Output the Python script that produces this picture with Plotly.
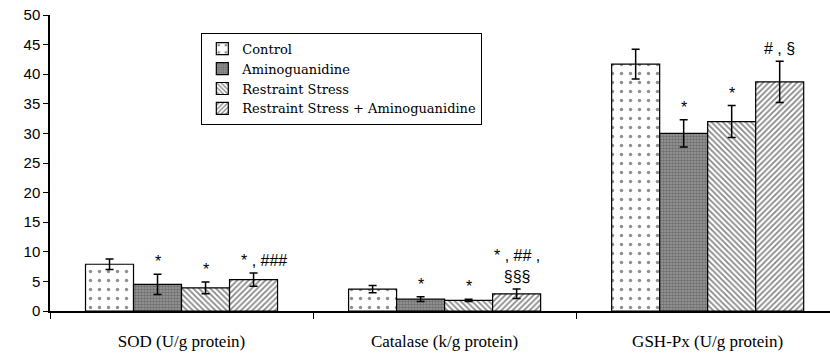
import plotly.graph_objects as go

# Antioxidant enzyme activity by treatment group
categories = ["SOD (U/g protein)", "Catalase (k/g protein)", "GSH-Px (U/g protein)"]
groups = ["Control", "Aminoguanidine", "Restraint Stress", "Restraint Stress + Aminoguanidine"]

control_mean = [7.9, 3.7, 41.7]
control_err = [0.9, 0.6, 2.5]
amino_mean = [4.5, 2.0, 30.0]
amino_err = [1.7, 0.4, 2.3]
stress_mean = [3.9, 1.8, 32.0]
stress_err = [1.0, 0.2, 2.7]
stress_amino_mean = [5.3, 2.9, 38.7]
stress_amino_err = [1.1, 0.8, 3.5]

# significance marks: (category index, group index, label)
sig_labels = [
    (0, 1, "*"), (0, 2, "*"), (0, 3, "* , ###"),
    (1, 1, "*"), (1, 2, "*"), (1, 3, "* , ## ,<br>§§§"),
    (2, 1, "*"), (2, 2, "*"), (2, 3, "# , §"),
]

y_ticks = [0, 5, 10, 15, 20, 25, 30, 35, 40, 45, 50]

means = [control_mean, amino_mean, stress_mean, stress_amino_mean]
errs = [control_err, amino_err, stress_err, stress_amino_err]

patterns = [
    dict(shape=".", size=9, solidity=0.12, fgcolor="#222", bgcolor="white", fillmode="overlay"),
    dict(shape=".", size=3, solidity=0.55, fgcolor="#444", bgcolor="#9a9a9a", fillmode="overlay"),
    dict(shape="\\", size=4, solidity=0.45, fgcolor="#111", bgcolor="white", fillmode="overlay"),
    dict(shape="/", size=4, solidity=0.45, fgcolor="#111", bgcolor="white", fillmode="overlay"),
]

fig = go.Figure()
for name, m, e, p in zip(groups, means, errs, patterns):
    fig.add_trace(go.Bar(
        x=categories, y=m, name=name,
        marker=dict(color="white", line=dict(color="black", width=1.2), pattern=p),
        error_y=dict(type="data", array=e, visible=True, color="black", thickness=1.5, width=4),
    ))

bargap = 0.27
bar_w = (1 - bargap) / 4
for ci, gi, text in sig_labels:
    mean = means[gi][ci]
    err = errs[gi][ci]
    x = ci + (gi - 1.5) * bar_w
    fig.add_annotation(
        x=x, y=mean + err, xref="x", yref="y", text=text, showarrow=False,
        yanchor="bottom", yshift=2, xshift=10 if text == "* , ###" else 0,
        font=dict(family="Liberation Sans", size=16, color="black"),
    )

fig.update_layout(
    width=830, height=357,
    margin=dict(l=50, r=0, t=15, b=46),
    paper_bgcolor="white", plot_bgcolor="white",
    barmode="group", bargap=bargap, bargroupgap=0,
    showlegend=True,
    legend=dict(
        x=0.194, y=0.94, xanchor="left", yanchor="top",
        bordercolor="black", borderwidth=1, bgcolor="white",
        font=dict(family="DejaVu Serif", size=13, color="black"),
        tracegroupgap=0, itemwidth=30,
    ),
    xaxis=dict(
        type="category", range=[-0.5, 2.465],
        showline=True, linecolor="black", linewidth=1.5,
        ticks="outside", tickson="boundaries", ticklen=6, tickcolor="black",
        ticklabelstandoff=14,
        tickfont=dict(family="Liberation Serif", size=17, color="black"),
        showgrid=False,
    ),
    yaxis=dict(
        range=[0, 50], tickvals=y_ticks,
        showline=True, linecolor="black", linewidth=1.5,
        ticks="outside", ticklen=5, tickcolor="black",
        tickfont=dict(family="Liberation Sans", size=15, color="black"),
        showgrid=False, zeroline=False,
    ),
)

fig.write_html("out.html")
